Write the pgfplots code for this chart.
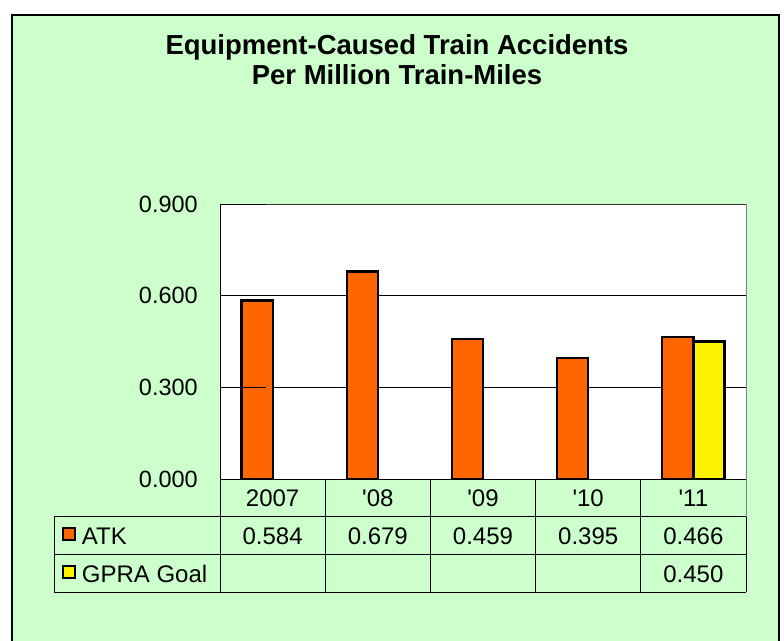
\documentclass[border=0pt]{standalone}
\usepackage{pgfplots}
\pgfplotsset{compat=1.18}
\usepackage{fontspec}
\setmainfont{Liberation Sans}
\definecolor{bggreen}{HTML}{CCFFCC}
\definecolor{atk}{HTML}{FF6600}
\definecolor{gpra}{HTML}{FFF200}
\begin{document}
\begin{tikzpicture}[x=1pt,y=1pt]
\useasboundingbox (0,0) rectangle (784,640);
\fill[white] (0,0) rectangle (784,640);
\filldraw[fill=bggreen, draw=black, line width=1.5pt] (12,-10) rectangle (779,625);
\node[anchor=base, inner sep=0pt, font=\fontsize{27.5}{30}\selectfont\bfseries] at (397,585) {Equipment-Caused Train Accidents};
\node[anchor=base, inner sep=0pt, font=\fontsize{27.5}{30}\selectfont\bfseries] at (397,555) {Per Million Train-Miles};
\begin{axis}[
  at={(220pt,161pt)}, anchor=south west,
  scale only axis, width=526pt, height=275pt,
  xmin=-0.5, xmax=4.5, ymin=0, ymax=0.9,
  ytick={0,0.3,0.6,0.9},
  xtick=\empty,
  axis background/.style={fill=white},
  ymajorgrids, grid style={black, line width=0.8pt},
  axis line style={draw=none},
  major tick length=0pt,
  yticklabel style={/pgf/number format/.cd, fixed, fixed zerofill, precision=3, assume math mode=true, /tikz/.cd,
    font=\fontsize{23.5}{24}\selectfont, anchor=east, inner sep=0pt, xshift=-22pt},
  ybar, bar width=0.295,
  clip=false,
]
\addplot[fill=atk, draw=black, line width=2.2pt, bar shift=-0.1475] coordinates {(0,0.584) (1,0.679) (2,0.459) (3,0.395) (4,0.466)};
\addplot[fill=gpra, draw=black, line width=2.2pt, bar shift=0.1475] coordinates {(4,0.450)};
\draw[black!80, line width=0.8pt] (rel axis cs:0,1) -- (rel axis cs:1,1);
\draw[gray, line width=1pt] (rel axis cs:1,0) -- (rel axis cs:1,1);
\draw[black, line width=1pt] (rel axis cs:0,0) -- (rel axis cs:0,1);
\draw[black, line width=0.8pt] (rel axis cs:0,0) -- (rel axis cs:1,0);
\draw[black, line width=0.8pt] (rel axis cs:0,0) -- ++(-7pt,0);
\draw[black, line width=0.8pt] (axis cs:-0.5,0.3) -- ++(-7pt,0);
\draw[black, line width=0.8pt] (axis cs:-0.5,0.6) -- ++(-7pt,0);
\draw[black, line width=0.8pt] (axis cs:-0.5,0.9) -- ++(-7pt,0);
\end{axis}
% data table
\begin{scope}[line width=1pt]
\foreach \x in {220,325.2,430.4,535.6,640.8} \draw (\x,161) -- (\x,47.7);
\draw[gray] (746,161) -- (746,123.3);
\draw (746,123.3) -- (746,47.7);
\draw (54.3,123.3) -- (54.3,47.7);
\foreach \y in {123.3,85.5,47.7} \draw (54.3,\y) -- (746,\y);
\end{scope}
\begin{scope}[every node/.style={anchor=base, inner sep=0pt, font=\fontsize{24}{26}\selectfont}]
\node at (272.6,133.5) {2007};
\node at (377.8,133.5) {\textquotesingle08};
\node at (483.0,133.5) {\textquotesingle09};
\node at (588.2,133.5) {\textquotesingle10};
\node at (693.4,133.5) {\textquotesingle11};
\node at (272.6,95.8) {0.584};
\node at (377.8,95.8) {0.679};
\node at (483.0,95.8) {0.459};
\node at (588.2,95.8) {0.395};
\node at (693.4,95.8) {0.466};
\node at (693.4,58) {0.450};
\node[anchor=base west] at (81.7,95.8) {ATK};
\node[anchor=base west] at (81.7,58) {GPRA Goal};
\end{scope}
\filldraw[fill=atk, draw=black, line width=2pt] (62.7,99.7) rectangle (74.8,112.3);
\filldraw[fill=gpra, draw=black, line width=2pt] (62.7,61.7) rectangle (74.8,74.3);
\end{tikzpicture}
\end{document}
